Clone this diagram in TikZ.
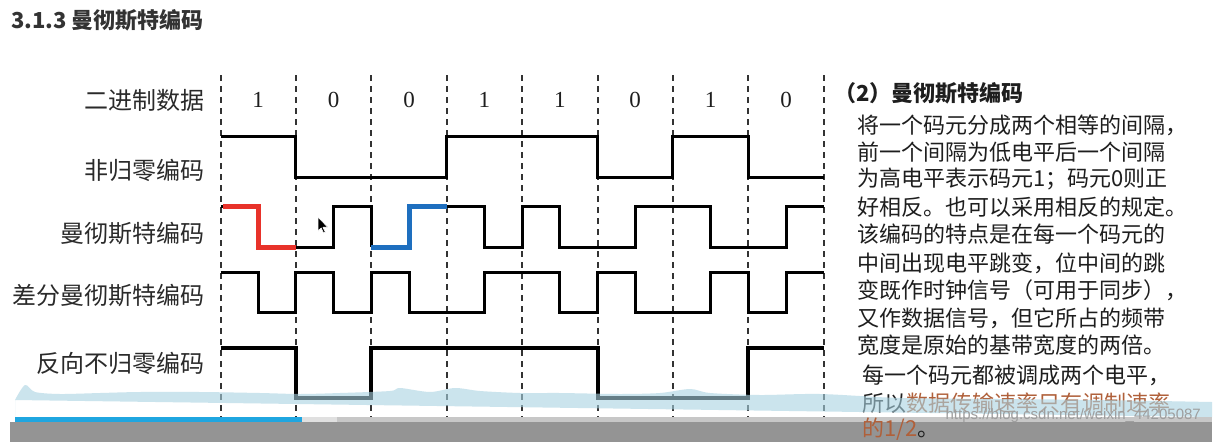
\documentclass[tikz,border=0pt]{standalone}
\usepackage{fontspec}
\setmainfont{Liberation Serif}
\newfontfamily\cjk{Noto Sans CJK SC}
\newfontfamily\wm{Liberation Sans}
\definecolor{txt}{HTML}{1E1E1E}
\definecolor{lblc}{HTML}{2A2A2A}
\definecolor{mred}{HTML}{E8322A}
\definecolor{mblue}{HTML}{1E6FBF}
\definecolor{brn}{HTML}{B0603A}
\definecolor{band}{HTML}{A9D3E2}
\definecolor{prog}{HTML}{1FA6E0}
\definecolor{ttl}{HTML}{333333}
\begin{document}
\begin{tikzpicture}[x=1pt,y=-1pt,
  lbl/.style={font=\cjk\fontsize{24}{24}\selectfont, text=lblc, anchor=east, inner sep=0pt},
  digit/.style={font=\fontsize{23}{23}\selectfont, text=txt, inner sep=0pt},
  body/.style={font=\cjk\fontsize{22}{22}\selectfont, anchor=west, inner sep=0pt, text=txt},
  gridline/.style={dash pattern=on 6pt off 5pt, line width=2pt, draw=black!80},
  wave/.style={line width=3pt, draw=black},
  hiwave/.style={line width=5pt, line join=miter},
  wmtext/.style={font=\wm\fontsize{15}{15}\selectfont, anchor=east, inner sep=0pt}]
\useasboundingbox (0,0) rectangle (1228,442);
\fill[white] (0,0) rectangle (1228,442);
% title
\node[font=\cjk\bfseries\fontsize{22}{22}\selectfont, text=ttl, anchor=west, inner sep=0pt] (title) at (11,20) {3.1.3 曼彻斯特编码};
% grid lines
\foreach \x in {220.5,295.9,371.3,446.7,522.1,597.5,672.9,748.3,823.7}
  \draw[gridline] (\x,75) -- (\x,430);
% row labels
\node[lbl] (l1) at (205,100) {二进制数据};
\node[lbl] (l2) at (205,170) {非归零编码};
\node[lbl] (l3) at (205,233) {曼彻斯特编码};
\node[lbl] (l4) at (205,295) {差分曼彻斯特编码};
\node[lbl] (l5) at (205,363) {反向不归零编码};
% digits
\node[digit] (d1) at (258.2,100) {1};
\node[digit] (d2) at (333.6,100) {0};
\node[digit] (d3) at (409.0,100) {0};
\node[digit] (d4) at (484.4,100) {1};
\node[digit] (d5) at (559.8,100) {1};
\node[digit] (d6) at (635.2,100) {0};
\node[digit] (d7) at (710.6,100) {1};
\node[digit] (d8) at (786.0,100) {0};
% NRZ
\draw[wave] (220.5,136) -- (295.9,136) -- (295.9,177) -- (446.7,177) -- (446.7,136) -- (597.5,136) -- (597.5,177) -- (672.9,177) -- (672.9,136) -- (748.3,136) -- (748.3,177) -- (823.7,177);
% Manchester
\draw[wave] (220.5,206) -- (224,206);
\draw[wave] (295.9,247) -- (333.6,247) -- (333.6,206) -- (371.3,206) -- (371.3,247);
\draw[wave] (446.7,206) -- (484.4,206) -- (484.4,247) -- (522.1,247) -- (522.1,206) -- (559.8,206) -- (559.8,247) -- (635.2,247) -- (635.2,206) -- (710.6,206) -- (710.6,247) -- (786,247) -- (786,206) -- (823.7,206);
\draw[hiwave, draw=mred] (223,206) -- (258.2,206) -- (258.2,247) -- (295.9,247);
\draw[hiwave, draw=mblue] (371.3,247) -- (409,247) -- (409,206) -- (446.7,206);
% cursor
\fill[black, draw=white, line width=0.6pt] (318,217) -- (318,231) -- (321.2,228) -- (323.5,233) -- (325.3,232.2) -- (323,227.3) -- (327.5,227) -- cycle;
% differential Manchester
\draw[wave] (220.5,272) -- (258.2,272) -- (258.2,312) -- (295.9,312) -- (295.9,272) -- (333.6,272) -- (333.6,312) -- (371.3,312) -- (371.3,272) -- (409,272) -- (409,312) -- (484.4,312) -- (484.4,272) -- (559.8,272) -- (559.8,312) -- (597.5,312) -- (597.5,272) -- (635.2,272) -- (635.2,312) -- (710.6,312) -- (710.6,272) -- (748.3,272) -- (748.3,312) -- (786,312) -- (786,272) -- (823.7,272);
% inverse NRZ
\draw[wave, line width=4pt] (220.5,348) -- (295.9,348) -- (295.9,398) -- (371.3,398) -- (371.3,348) -- (597.5,348) -- (597.5,398) -- (748.3,398) -- (748.3,348) -- (823.7,348);
% right text
\node[font=\cjk\bfseries\fontsize{22}{22}\selectfont, text=txt, anchor=west, inner sep=0pt] (h) at (834,93) {（2）曼彻斯特编码};
\node[body] (t1) at (857,125) {将一个码元分成两个相等的间隔，};
\node[body] (t2) at (857,152) {前一个间隔为低电平后一个间隔};
\node[body] (t3) at (857,179) {为高电平表示码元1；码元0则正};
\node[body] (t4) at (857,207) {好相反。也可以采用相反的规定。};
\node[body] (t5) at (857,234) {该编码的特点是在每一个码元的};
\node[body] (t6) at (857,263) {中间出现电平跳变，位中间的跳};
\node[body] (t7) at (857,290) {变既作时钟信号（可用于同步），};
\node[body] (t8) at (857,318) {又作数据信号，但它所占的频带};
\node[body] (t9) at (857,345) {宽度是原始的基带宽度的两倍。};
\node[body] (t10) at (862,375) {每一个码元都被调成两个电平，};
\node[body] (t11) at (862,403) {所以\textcolor{brn}{数据传输速率只有调制速率}};
% video player overlay
\fill[band, fill opacity=0.6] (15,417) -- (15,400) plot[smooth] coordinates {(15,400) (25,385) (35,392) (60,394) (100,393) (140,392) (200,392) (260,393) (300,394) (340,393) (390,391) (400,388) (430,392) (455,388) (480,391) (520,393) (560,393) (620,394) (660,393) (690,389) (710,393) (760,395) (820,394) (900,398) (1000,399) (1100,400) (1212,402)} -- (1212,417) -- cycle;
\fill[black!22] (15,417) rectangle (1212,421.5);
\fill[black!12] (302,417) rectangle (337,421.5);
\fill[prog] (15,417) rectangle (302,421.5);
\fill[black!42] (10,421.5) rectangle (1212,442);
\node[body] (t12) at (862,429) {\textcolor{brn}{的1/2}。};
\node[wmtext, text=black!38] (wmk) at (1201,416) {https://blog.csdn.net/weixin\_44205087};
\end{tikzpicture}
\end{document}
